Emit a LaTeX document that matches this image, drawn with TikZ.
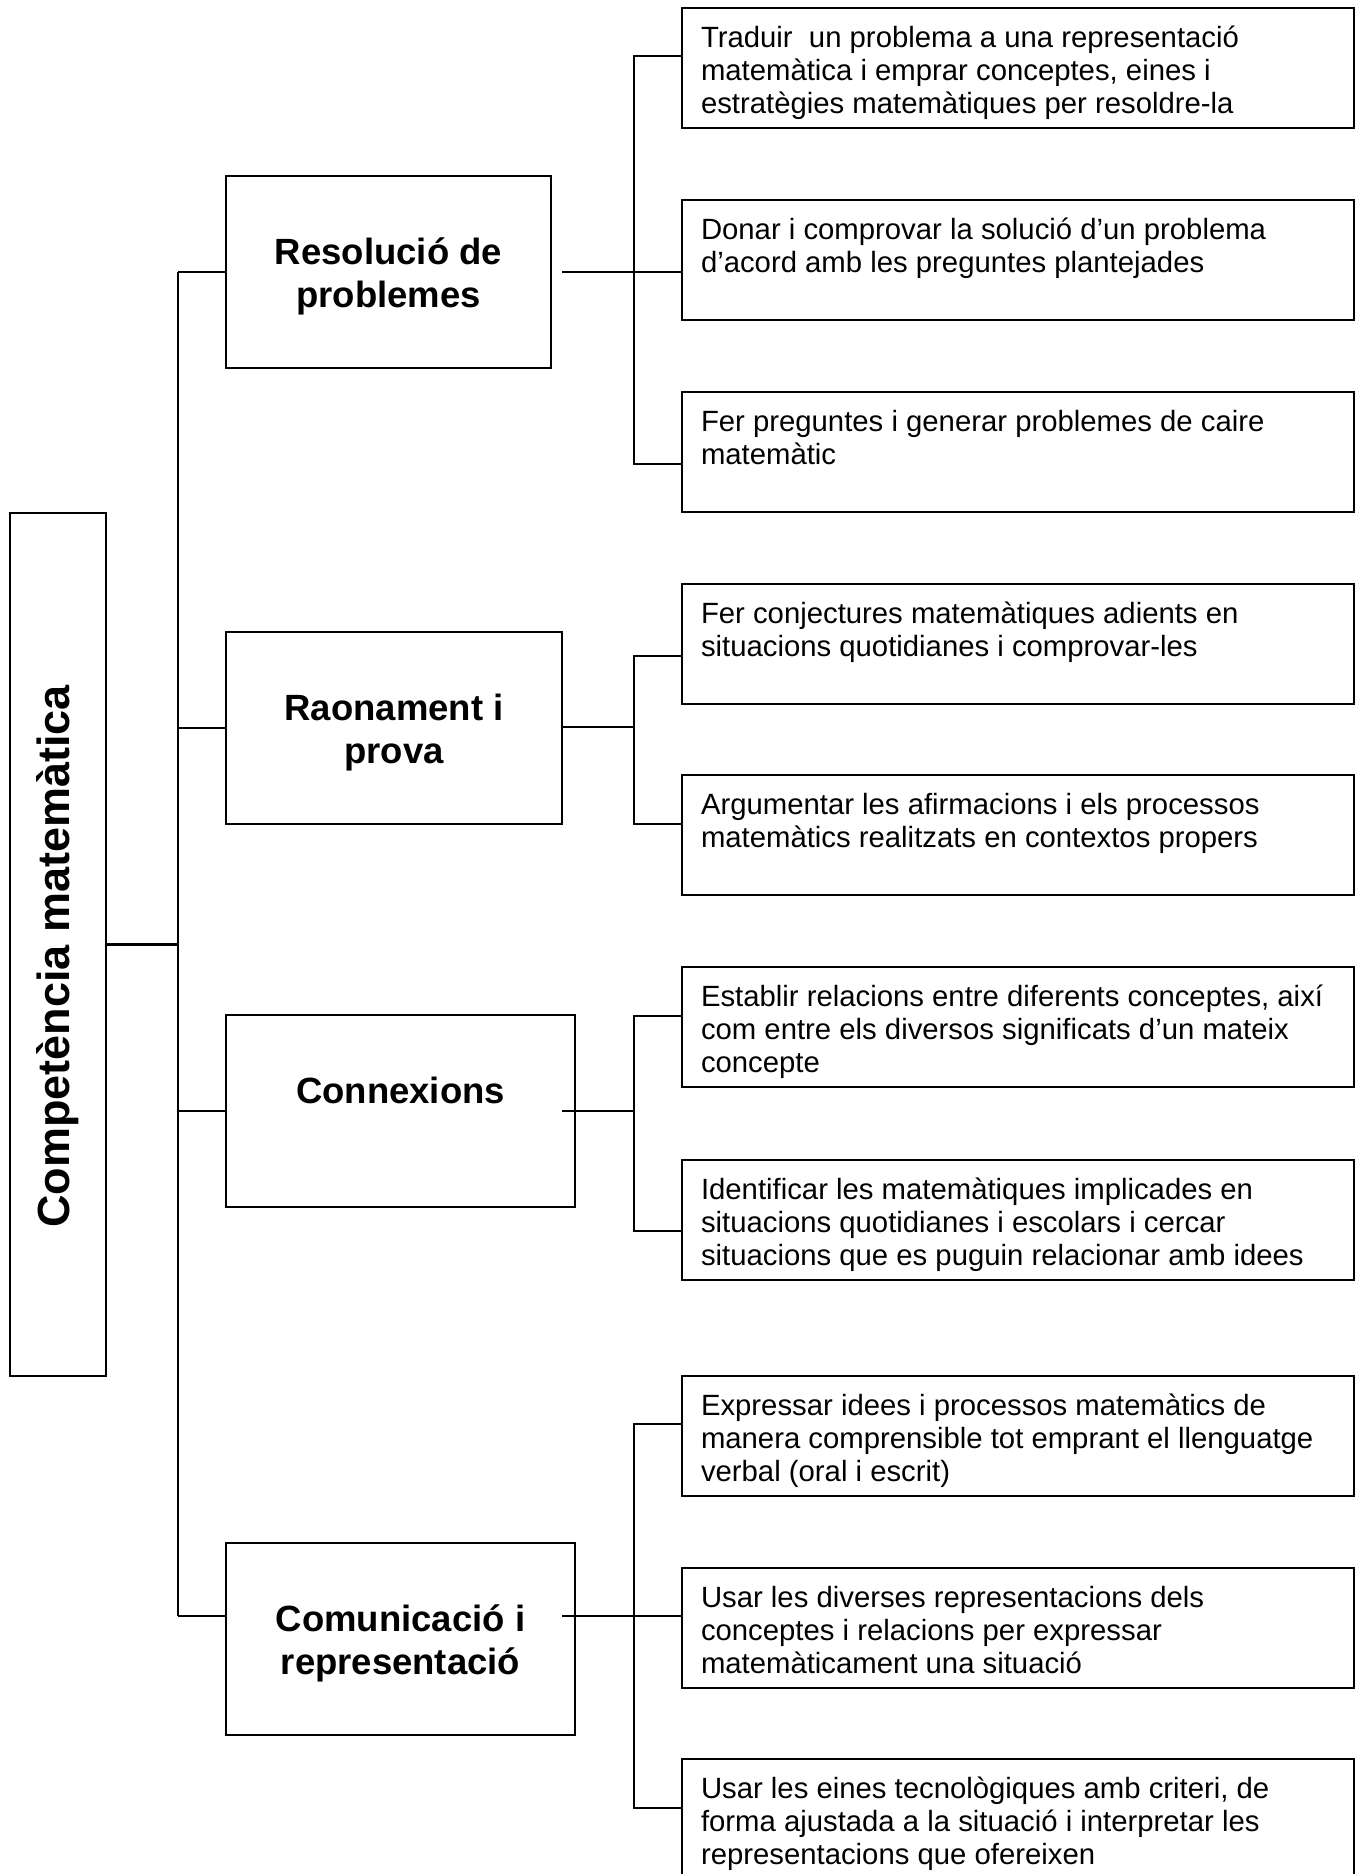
\documentclass[tikz,border=0pt]{standalone}
\usepackage{fontspec}
\setmainfont{Liberation Sans}

\newcommand{\itemlines}[1]{\parbox[t][88pt][t]{634pt}{\begin{tabular}[t]{@{}l@{}}#1\end{tabular}}}
\newcommand{\catlines}[2]{\parbox[t][76pt][t]{#1}{\centering\begin{tabular}[t]{@{}c@{}}#2\end{tabular}}}

\begin{document}
\begin{tikzpicture}
  [
    x=1pt, y=-1pt,
    frame/.style={
      draw,
      line width=2.4pt,
      outer sep=0pt
    },
    link/.style={
      line width=2.2pt
    },
    item/.style={
      frame,
      anchor=north west,
      inner xsep=19pt,
      inner ysep=16pt,
      font=\fontsize{29.3}{33}\selectfont
    },
    cat/.style={
      frame,
      anchor=north west,
      inner xsep=0pt,
      inner ysep=58pt,
      font=\bfseries\fontsize{36.5}{43}\selectfont
    },
    root/.style={
      frame,
      rotate=90,
      minimum width=863pt,
      minimum height=96pt,
      font=\bfseries\fontsize{45}{54}\selectfont
    }
  ]

  \fill [white] (0,0) rectangle (1364,1874);
  \useasboundingbox (0,0) rectangle (1364,1874);

  % root
  \node [root] (comp) at (58,944.5) {Competència matemàtica\hspace*{24pt}};

  % categories
  \node [cat] (res) at (226,176) {\catlines{325pt}{Resolució de\\problemes}};
  \node [cat] (rao) at (226,632) {\catlines{336pt}{Raonament i\\prova}};
  \node [cat] (con) at (226,1015) {\catlines{349pt}{Connexions}};
  \node [cat] (com) at (226,1543) {\catlines{349pt}{Comunicació i\\representació}};

  % items
  \node [item] (t1) at (682,8) {\itemlines{Traduir\ \ un problema a una representació\\matemàtica i emprar conceptes, eines i\\estratègies matemàtiques per resoldre-la}};
  \node [item] (t2) at (682,200) {\itemlines{Donar i comprovar la solució d’un problema\\d’acord amb les preguntes plantejades}};
  \node [item] (t3) at (682,392) {\itemlines{Fer preguntes i generar problemes de caire\\matemàtic}};
  \node [item] (r1) at (682,584) {\itemlines{Fer conjectures matemàtiques adients en\\situacions quotidianes i comprovar-les}};
  \node [item] (r2) at (682,775) {\itemlines{Argumentar les afirmacions i els processos\\matemàtics realitzats en contextos propers}};
  \node [item] (c1) at (682,967) {\itemlines{Establir relacions entre diferents conceptes, així\\com entre els diversos significats d’un mateix\\concepte}};
  \node [item] (c2) at (682,1160) {\itemlines{Identificar les matemàtiques implicades en\\situacions quotidianes i escolars i cercar\\situacions que es puguin relacionar amb idees}};
  \node [item] (k1) at (682,1376) {\itemlines{Expressar idees i processos matemàtics de\\manera comprensible tot emprant el llenguatge\\verbal (oral i escrit)}};
  \node [item] (k2) at (682,1568) {\itemlines{Usar les diverses representacions dels\\conceptes i relacions per expressar\\matemàticament una situació}};
  \node [item] (k3) at (682,1759) {\itemlines{Usar les eines tecnològiques amb criteri, de\\forma ajustada a la situació i interpretar les\\representacions que ofereixen}};

  % trunk
  \coordinate (trunktop) at (178,272);
  \coordinate (trunkbot) at (178,1616);
  \draw [link] (trunktop) -- (trunkbot);
  \draw [link] (comp.south) -- (comp.south -| trunktop);
  \draw [link] (res.west) -- (trunktop);
  \draw [link] (rao.west) -- (rao.west -| trunktop);
  \draw [link] (con.west) -- (con.west -| trunktop);
  \draw [link] (trunkbot) -- (trunkbot -| com.west);

  % brackets
  \coordinate (resout) at (562,272);
  \coordinate (raoout) at (562,727);
  \coordinate (conout) at (562,1111);
  \coordinate (comout) at (562,1616);
  \coordinate (resbr) at (634,272);
  \coordinate (raobr) at (634,727);
  \coordinate (conbr) at (634,1111);
  \coordinate (combr) at (634,1616);
  \foreach \g/\a/\b/\da/\db in {res/t1/t3/48/72,rao/r1/r2/72/49,con/c1/c2/49/71,com/k1/k3/48/49} {
    \draw [link] (\g out) -- (\g br);
    \draw [link] ([yshift=-\da pt]\a.north west) -| (\g br) |- ([yshift=-\db pt]\b.north west);
  }
  \draw [link] (resbr) -- (t2.west |- resbr);
  \draw [link] (combr) -- (k2.west |- combr);
\end{tikzpicture}
\end{document}
